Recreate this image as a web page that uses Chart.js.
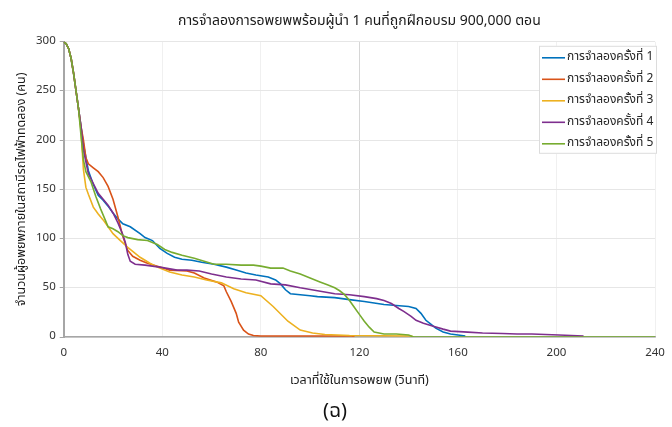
<!DOCTYPE html>
<html><head><meta charset="utf-8">
<script src="https://cdn.jsdelivr.net/npm/chart.js@4"></script>
<style>html,body{margin:0;padding:0;background:#fff;}#wrap{width:672px;height:427px;}</style>
</head><body><div id="wrap"><canvas id="c" width="672" height="427"></canvas></div>
<script>
const chartTitle = 'การจำลองการอพยพพร้อมผู้นำ 1 คนที่ถูกฝึกอบรม 900,000 ตอน';
const xTitle = 'เวลาที่ใช้ในการอพยพ (วินาที)';
const yTitle = 'จำนวนผู้อพยพภายในสถานีรถไฟฟ้าทดลอง (คน)';
const caption = '(ฉ)';
const seriesNames = ['การจำลองครั้งที่ 1','การจำลองครั้งที่ 2','การจำลองครั้งที่ 3','การจำลองครั้งที่ 4','การจำลองครั้งที่ 5'];
const seriesColors = ['#0072BD','#D95319','#EDB120','#7E2F8E','#77AC30'];
const xTicks = [0,40,80,120,160,200,240];
const yTicks = [0,50,100,150,200,250,300];

const run1X = [0,1,2,3,4,5,6,7,8,10,12,14,16,18,20,22,24,27,31,33,36,39,42,45,48,52,56,61,66,70,74,78,83,86,88,90,92,96,100,103,110,116,122,130,135,140,143,145,147,149,151,154,157,160,163];
const run1Y = [300,298,293,283,268,250,232,214,196,169,155,144,139,133,126,120,115,112,105,101,98,90,85,81,79,78,76,74,71,68,65,63,61,58,54,48,44,43,42,41,40,38,36,33,32,31,29,24,17,13,9,5,3,2,1];

const run2X = [0,1,2,3,4,5,6,7,8,9,10,12,14,16,18,20,22,24,26,28,31,34,38,43,50,53,57,62,65,66,68,70,71,73,75,77,80,117,118];
const run2Y = [300,298,293,283,268,250,232,214,200,182,176,172,168,162,153,140,122,102,88,82,78,75,72,68,67,65,60,56,52,46,36,24,15,7,3,1.5,1,1,0];

const run3X = [0,1,2,3,4,5,6,7,8,9,10,12,14,16,18,20,23,26,28,31,35,38,43,48,53,58,64,69,74,80,85,91,96,101,106,116,141,142];
const run3Y = [300,298,293,283,268,250,232,210,170,152,145,132,125,119,112,105,98,91,87,81,75,71,66,63,61,58,55,49,45,42,31,16,7,4,2.5,1.5,1,0];

const run4X = [0,1,2,3,4,5,6,7,8,10,12,14,16,18,20,22,24,25,26,27,29,33,39,46,50,55,60,66,72,78,84,90,96,103,110,116,122,127,130,133,136,138,141,143,146,150,154,157,164,170,178,184,190,201,211];
const run4Y = [300,298,293,283,268,250,232,214,190,166,156,146,140,134,126,116,104,96,84,77,74,73,71,68,68,67,64,61,59,58,54,53,50,47,44,43,41,39,37,34,29,26,21,17,14,11,8,6,5,4,3.5,3,3,2,1];

const run5X = [0,1,2,3,4,5,6,7,8,9,11,13,15,17,18,20,22,24,26,30,34,38,41,44,48,53,57,61,66,72,77,80,84,89,92,96,100,104,107,110,112,114,116,118,120,122,124,126,130,135,140,142,240];
const run5Y = [300,298,293,283,268,250,232,205,180,168,158,143,130,118,112,110,107,103,101,99,98,94,89,86,83,80,77,74,74,73,73,72,70,70,67,64,60,56,53,50,47,43,37,30,23,16,10,5,3,3,2,0,0];

const runsX = [run1X, run2X, run3X, run4X, run5X];
const runsY = [run1Y, run2Y, run3Y, run4Y, run5Y];

const FONT = "Tahoma, 'Noto Sans Thai', 'Leelawadee UI', 'Noto Sans', sans-serif";

const datasets = seriesNames.map((name, i) => ({
  label: name,
  data: runsX[i].map((x, j) => ({x: x, y: runsY[i][j]})),
  borderColor: seriesColors[i],
  backgroundColor: seriesColors[i],
  borderWidth: 1.6,
  pointRadius: 0,
  tension: 0,
  fill: false,
  order: 5 - i
}));

const legendBox = {
  id: 'legendBox',
  afterDraw(chart) {
    const ctx = chart.ctx;
    const area = chart.chartArea;
    const bx = area.right - 116, by = area.top + 4, bw = 118, bh = 108;
    ctx.save();
    ctx.fillStyle = '#ffffff';
    ctx.fillRect(bx, by, bw, bh);
    ctx.strokeStyle = '#dcdcdc';
    ctx.lineWidth = 1;
    ctx.strokeRect(bx + 0.5, by + 0.5, bw - 1, bh - 1);
    ctx.font = '12px ' + FONT;
    ctx.textBaseline = 'middle';
    ctx.textAlign = 'left';
    chart.data.datasets.forEach((ds, i) => {
      const y = by + 12 + i * 21.5;
      ctx.strokeStyle = ds.borderColor;
      ctx.lineWidth = 1.6;
      ctx.beginPath();
      ctx.moveTo(bx + 3, y);
      ctx.lineTo(bx + 26, y);
      ctx.stroke();
      ctx.fillStyle = '#262626';
      ctx.fillText(ds.label, bx + 28, y);
    });
    ctx.restore();
  }
};

new Chart(document.getElementById('c'), {
  type: 'line',
  data: { datasets: datasets },
  options: {
    responsive: false,
    animation: false,
    layout: { padding: { left: 15, right: 17, top: 0, bottom: 2 } },
    plugins: {
      legend: { display: false },
      tooltip: { enabled: false },
      title: {
        display: true, text: chartTitle, color: '#1a1a1a', fullSize: false,
        font: { family: FONT, size: 14, weight: 'normal' },
        padding: { top: 14, bottom: 11 }
      },
      subtitle: {
        display: true, text: caption, position: 'bottom', color: '#111',
        font: { family: FONT, size: 20, weight: 'normal' },
        padding: { top: 12, bottom: 0 }
      }
    },
    scales: {
      x: {
        type: 'linear', min: 0, max: 240,
        afterBuildTicks: (s) => { s.ticks = xTicks.map(v => ({value: v})); },
        afterFit: (s) => { s.height = 52; s.paddingRight = 0; },
        ticks: { color: '#333', font: { family: FONT, size: 11.5 }, padding: 10, maxRotation: 0 },
        grid: {
          color: (c) => c.tick && c.tick.value === 120 ? '#d6d6d6' : '#f0f0f0',
          drawTicks: false
        },
        border: { color: '#a6a6a6', width: 1.5 },
        title: { display: true, text: xTitle, color: '#1a1a1a', font: { family: FONT, size: 12.5 }, padding: { top: 0, bottom: 0 } }
      },
      y: {
        min: 0, max: 300,
        afterBuildTicks: (s) => { s.ticks = yTicks.map(v => ({value: v})); },
        ticks: { color: '#333', font: { family: FONT, size: 11.5 }, padding: 4 },
        grid: { color: '#e6e6e6', tickColor: '#a6a6a6', tickLength: 4, drawTicks: true },
        border: { color: '#a6a6a6', width: 2 },
        title: { display: true, text: yTitle, color: '#1a1a1a', font: { family: FONT, size: 12.5 }, padding: { top: 0, bottom: 2 } }
      }
    }
  },
  plugins: [legendBox]
});
</script>
</body></html>
